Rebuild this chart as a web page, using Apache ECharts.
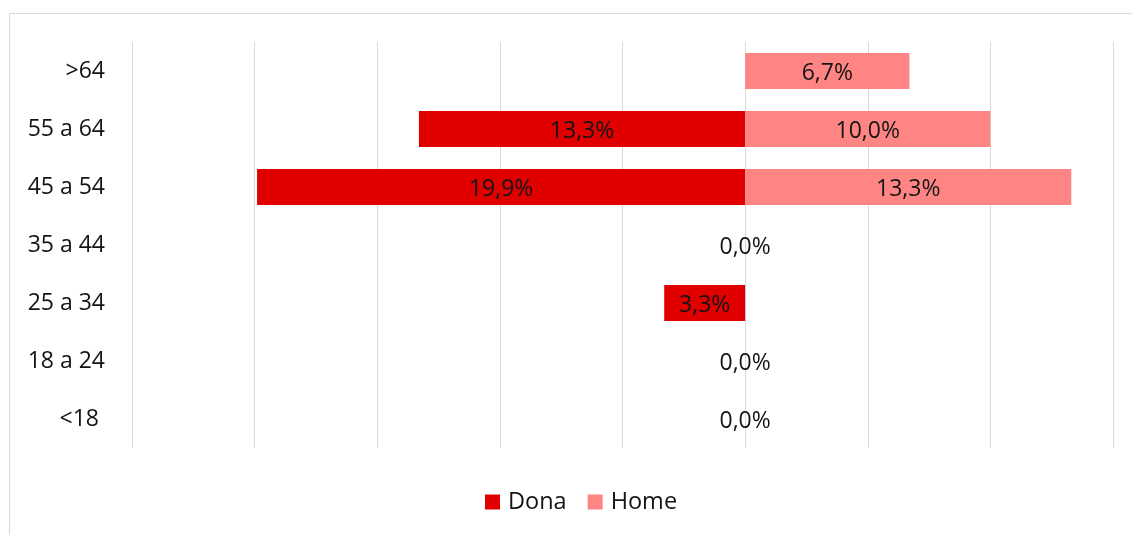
<!DOCTYPE html>
<html>
<head>
<meta charset="utf-8">
<script src="https://cdn.jsdelivr.net/npm/echarts@6/dist/echarts.min.js"></script>
<style>
  html, body { margin: 0; padding: 0; background: #fff; }
  #chart { width: 1132px; height: 535px; }
</style>
</head>
<body>
<div id="chart"></div>
<script>
// Age groups, top to bottom
const ageGroups = ['>64', '55 a 64', '45 a 54', '35 a 44', '25 a 34', '18 a 24', '<18 '];
// Share of each group (%), women drawn to the left, men to the right
const donaPct = [null, 13.3, 19.9, 0, 3.3, 0, 0];
const homePct = [6.7, 10.0, 13.3, null, null, null, null];
// Value axis range and step (%)
const axisMin = -25;
const axisMax = 15;
const axisStep = 5;

const fontFamily = '"Open Sans", "Noto Sans", sans-serif';
const textColor = '#141414';
const fontSize = 23;

const fmt = v => Math.abs(v).toFixed(1).replace('.', ',') + '%';

const barLabel = {
  show: true,
  position: 'inside',
  offset: [0, 2],
  formatter: p => fmt(p.value),
  fontSize: fontSize,
  color: textColor,
  fontFamily: fontFamily
};

const chart = echarts.init(document.getElementById('chart'), null, { renderer: 'canvas' });

chart.setOption({
  animation: false,
  textStyle: { fontFamily: fontFamily },
  graphic: [{
    type: 'rect',
    shape: { x: 9.5, y: 13.5, width: 1140, height: 540 },
    style: { fill: 'none', stroke: '#d9d9d9', lineWidth: 1 },
    silent: true,
    z: -10
  }],
  grid: { left: 132, right: 19, top: 42, bottom: 87, containLabel: false },
  legend: {
    bottom: 16,
    left: 480,
    icon: 'rect',
    itemWidth: 15,
    itemHeight: 15,
    itemGap: 21,
    textStyle: { fontSize: 23.5, color: textColor, fontFamily: fontFamily, padding: [2, 0, 0, 3] },
    data: ['Dona', 'Home']
  },
  xAxis: {
    type: 'value',
    min: axisMin,
    max: axisMax,
    interval: axisStep,
    axisLine: { show: false },
    axisTick: { show: false },
    axisLabel: { show: false },
    splitLine: { show: true, lineStyle: { color: '#d9d9d9', width: 1 } }
  },
  yAxis: {
    type: 'category',
    inverse: true,
    data: ageGroups,
    axisLine: { show: false },
    axisTick: { show: false },
    axisLabel: {
      fontSize: fontSize,
      color: textColor,
      margin: 27,
      padding: [4, 0, 0, 0],
      fontFamily: fontFamily
    }
  },
  series: [
    {
      name: 'Dona',
      type: 'bar',
      stack: 'edat',
      barWidth: 36,
      itemStyle: { color: '#e00000' },
      label: barLabel,
      data: donaPct.map(v => v === null ? null : -v)
    },
    {
      name: 'Home',
      type: 'bar',
      stack: 'edat',
      barWidth: 36,
      itemStyle: { color: '#ff8585' },
      label: barLabel,
      data: homePct
    }
  ]
});
</script>
</body>
</html>
